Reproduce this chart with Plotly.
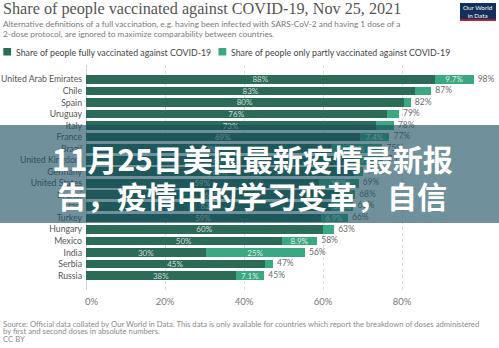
import plotly.graph_objects as go

countries = ["United Arab Emirates", "Chile", "Spain", "Uruguay", "Italy", "France", "Brazil",
             "United Kingdom", "Germany", "United States", "Brunei", "Israel", "Turkey", "Hungary",
             "Mexico", "India", "Serbia", "Russia"]
fully = [88.4, 83.4, 80.4, 76.2, 73.3, 69.4, 62.0, 68.2, 67.9, 59.0, 64.0, 62.1, 59.4, 60.0, 49.6, 30.4, 45.2, 38.0]
partly = [9.7, 4.0, 1.8, 3.0, 4.6, 7.4, 13.0, 7.1, 2.3, 10.0, 4.1, 5.6, 6.9, 2.8, 8.9, 25.0, 2.1, 7.1]
total_labels = ["98%", "87%", "82%", "79%", "78%", "77%", "75%", "75%", "70%", "69%", "68%", "68%",
                "66%", "63%", "58%", "56%", "47%", "45%"]
x_ticks = [0, 20, 40, 60, 80]
x_ticktext = ["\u2007\u20070%", "20%", "40%", "60%", "80%"]

title = "Share of people vaccinated against COVID-19, Nov 25, 2021"
subtitle = ["Alternative definitions of a full vaccination, e.g. having been infected with SARS-CoV-2 and having 1 dose of a",
            "2-dose protocol, are ignored to maximize comparability between countries."]
legend_names = ["Share of people fully vaccinated against COVID-19",
                "Share of people only partly vaccinated against COVID-19"]
source = ["Source: Official data collated by Our World in Data. This data is only available for countries which report the breakdown of doses administered",
          "by first and second doses in absolute numbers.",
          "CC BY"]
overlay_lines = ["11月25日美国最新疫情最新报", "告，疫情中的学习变革，自信"]

C_FULL = "#2b6b57"
C_PART = "#3aa880"

W, H = 499, 348
PL, PR, PT, PB = 86, 0, 65, 58
PW, PH = W - PL - PR, H - PT - PB


def px_x(x):
    return (x - PL) / PW


def px_y(y):
    return (PT + PH - y) / PH


totals = [f + p for f, p in zip(fully, partly)]
fully_text = [f"{v:.0f}%" for v in fully]
partly_text = [f"{v:.2g}%" if v >= 5 else "" for v in partly]

fig = go.Figure()
fig.add_trace(go.Bar(
    y=countries, x=fully, orientation="h", marker=dict(color=C_FULL, line=dict(width=0)),
    text=fully_text, textposition="inside", insidetextanchor="middle", textangle=0,
    constraintext="none", textfont=dict(size=8, color="rgba(255,255,255,0.78)", family="Lato"),
    showlegend=False, hoverinfo="skip"))
fig.add_trace(go.Bar(
    y=countries, x=partly, orientation="h", marker=dict(color=C_PART, line=dict(width=0)),
    text=partly_text, textposition="inside", insidetextanchor="middle", textangle=0,
    constraintext="none", textfont=dict(size=8, color="rgba(255,255,255,0.85)", family="Lato"),
    showlegend=False, hoverinfo="skip"))
fig.add_trace(go.Scatter(
    y=countries, x=totals, mode="markers+text", text=total_labels, textposition="middle right",
    marker=dict(size=5, color="rgba(0,0,0,0)"),
    textfont=dict(size=8.5, color="#6b6b6b", family="Lato"), cliponaxis=False,
    showlegend=False, hoverinfo="skip"))

shapes = []
annotations = []

# overlay band
shapes.append(dict(type="rect", xref="paper", yref="paper", x0=px_x(0), x1=px_x(W),
                   y0=px_y(223), y1=px_y(125), fillcolor="rgba(24,78,94,0.62)",
                   line=dict(width=0), layer="above"))

# legend squares
for x0, col in [(3.3, C_FULL), (218.5, C_PART)]:
    shapes.append(dict(type="rect", xref="paper", yref="paper", x0=px_x(x0), x1=px_x(x0 + 7.8),
                       y0=px_y(55.5), y1=px_y(48), fillcolor=col, line=dict(width=0)))
for xt, name in [(13.5, legend_names[0]), (228.5, legend_names[1])]:
    annotations.append(dict(xref="paper", yref="paper", x=px_x(xt), y=px_y(52), text=name,
                            showarrow=False, xanchor="left", yanchor="middle",
                            font=dict(size=8.8, color="#444", family="Lato")))

# logo
shapes.append(dict(type="rect", xref="paper", yref="paper", x0=px_x(460), x1=px_x(496),
                   y0=px_y(21), y1=px_y(3), fillcolor="#12305a", line=dict(width=0)))
shapes.append(dict(type="rect", xref="paper", yref="paper", x0=px_x(460), x1=px_x(496),
                   y0=px_y(21), y1=px_y(19.3), fillcolor="#c3232b", line=dict(width=0)))
annotations.append(dict(xref="paper", yref="paper", x=px_x(478), y=px_y(11), text="Our World<br>in Data",
                        showarrow=False, xanchor="center", yanchor="middle",
                        font=dict(size=6.3, color="white", family="Lato")))

# title and subtitle
annotations.append(dict(xref="paper", yref="paper", x=px_x(1), y=px_y(8.5), text=title,
                        showarrow=False, xanchor="left", yanchor="middle",
                        font=dict(size=16.2, color="#555", family="Liberation Serif")))
for i, line in enumerate(subtitle):
    annotations.append(dict(xref="paper", yref="paper", x=px_x(1), y=px_y(24 + i * 9.5), text=line,
                            showarrow=False, xanchor="left", yanchor="middle",
                            font=dict(size=8.3, color="#7a7a7a", family="Lato")))
for i, line in enumerate(source):
    annotations.append(dict(xref="paper", yref="paper", x=px_x(1), y=px_y(324 + i * 7.4), text=line,
                            showarrow=False, xanchor="left", yanchor="middle",
                            font=dict(size=7.7, color="#8a8a8a", family="Lato")))

# overlay text
for i, line in enumerate(overlay_lines):
    annotations.append(dict(xref="paper", yref="paper", x=px_x(252), y=px_y(157.5 + i * 37.5),
                            text=f"<b>{line}</b>", showarrow=False, xanchor="center", yanchor="middle",
                            font=dict(size=30, color="white", family="Noto Sans CJK SC")))

fig.update_layout(
    width=W, height=H, autosize=False,
    margin=dict(l=PL, r=PR, t=PT, b=PB, pad=0),
    paper_bgcolor="white", plot_bgcolor="white",
    barmode="stack", bargap=0.24,
    font=dict(family="Lato", color="#555"),
    shapes=shapes, annotations=annotations,
    xaxis=dict(range=[0, PW / 3.95], tickvals=x_ticks, ticktext=x_ticktext, ticks="",
               showgrid=True, gridcolor="#dcdcdc", griddash="dot", gridwidth=1,
               zeroline=True, zerolinecolor="#cfcfcf", zerolinewidth=1, ticklabelstandoff=4,
               tickfont=dict(size=9.5, color="#777", family="Lato"), fixedrange=True),
    yaxis=dict(type="category", autorange="reversed", ticks="", showgrid=False, showline=False,
               tickfont=dict(size=8.7, color="#555", family="Lato"), ticklabelstandoff=3,
               fixedrange=True),
)

fig.write_html("out.html", config={"displayModeBar": False})
